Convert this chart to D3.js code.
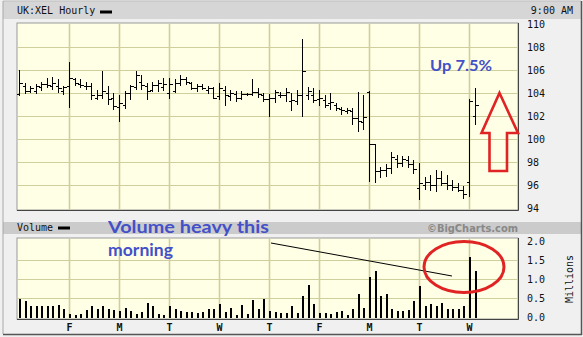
<!DOCTYPE html>
<html><head><meta charset="utf-8">
<script src="https://cdn.jsdelivr.net/npm/d3@7"></script>
<style>
html,body{margin:0;padding:0;background:#f0f0f0;}
svg{display:block;}
</style></head>
<body>
<svg id="c" width="583" height="337"></svg>
<script>
// ---- data ----
const dayLabels = ["F","M","T","W","T","F","M","T","W"];
const barsPerDay = 9;
const priceTicks = [94,96,98,100,102,104,106,108,110];
const volumeTicks = [0.0,0.5,1.0,1.5,2.0];
const openP = [
103.9,104.6,104.2,104.2,104.5,104.8,104.6,104.6,104.2,
104.6,105.2,104.8,104.6,104.6,103.6,103.8,104.0,103.6,
102.8,103.0,104.0,104.5,105.0,104.6,104.3,104.7,104.5,
104.0,104.2,104.9,105.2,104.9,104.4,104.6,104.3,104.4,
103.7,104.3,103.7,103.9,103.6,103.9,103.9,104.1,103.8,
103.5,103.6,103.8,103.8,103.3,103.3,103.8,103.8,103.8,
103.5,103.4,103.1,103.0,102.6,102.4,102.4,101.8,101.5,
104.1,99.6,97.2,97.3,97.5,98.3,97.9,98.2,97.8,
95.7,96.0,96.3,96.0,96.6,96.2,96.0,95.8,95.6,
96.3,102.0];
const highP = [
106.0,104.9,104.6,104.8,105.0,105.3,105.4,105.2,104.6,
106.7,105.3,105.2,105.0,104.9,104.3,105.9,104.6,104.0,
103.8,104.2,104.7,105.9,105.6,104.9,105.0,105.1,105.3,
105.3,105.2,105.6,105.4,105.0,104.8,104.8,104.6,104.5,
104.9,104.6,104.3,104.2,104.2,104.0,105.2,104.4,104.0,
103.9,104.3,104.1,104.4,104.0,104.3,108.7,104.5,104.4,
104.3,103.8,104.0,103.1,102.8,102.7,102.7,104.1,103.8,
104.2,99.6,97.6,97.8,98.9,98.6,98.5,98.5,98.2,
97.9,96.7,96.9,97.3,97.2,96.9,96.4,96.2,95.9,
103.5,104.4];
const lowP = [
103.7,103.9,104.0,103.9,104.2,104.4,104.3,104.0,103.8,
102.7,104.6,104.4,104.3,103.4,103.4,103.5,103.0,102.5,
101.5,102.6,103.4,104.3,104.3,103.4,104.1,104.1,104.2,
103.5,104.0,104.6,104.7,104.3,104.1,104.3,103.9,103.5,
103.4,102.9,103.3,103.2,103.4,103.7,103.7,103.6,103.2,
101.9,103.1,103.6,103.2,102.4,103.0,101.9,103.4,103.1,
102.9,102.7,102.5,102.4,102.1,102.2,101.2,100.6,100.8,
96.3,96.2,96.6,96.7,97.0,97.5,97.6,97.5,97.0,
94.7,95.6,95.5,95.4,95.9,95.6,95.5,95.4,94.8,
95.0,101.2];
const closeP = [
104.9,104.2,104.4,104.6,104.8,104.7,104.9,104.4,104.5,
105.3,104.9,104.7,104.6,103.8,103.8,104.2,103.5,102.9,
103.1,104.0,104.6,105.6,104.7,104.2,104.7,104.9,104.8,
104.8,104.9,105.2,105.0,104.4,104.6,104.4,104.4,103.6,
104.4,103.8,104.0,103.6,103.9,103.9,104.1,103.9,103.5,
103.6,104.1,103.8,104.1,103.4,103.8,105.9,104.2,103.4,
103.6,103.0,103.2,102.7,102.5,102.5,101.8,101.6,101.9,
99.6,97.2,97.3,97.5,98.4,97.9,98.3,97.8,97.4,
96.2,96.3,96.0,96.6,96.2,96.0,95.8,95.6,95.2,
103.3,103.0];
const volumeM = [
0.48,0.42,0.29,0.30,0.29,0.30,0.30,0.32,0.22,
0.08,0.06,0.08,0.18,0.30,0.22,0.29,0.22,0.18,
0.17,0.24,0.16,0.09,0.13,0.38,0.29,0.08,0.06,
0.29,0.22,0.15,0.13,0.13,0.11,0.13,0.22,0.22,
0.35,0.13,0.25,0.06,0.31,0.09,0.44,0.20,0.48,
0.16,0.13,0.11,0.11,0.29,0.11,0.54,0.83,0.35,
0.11,0.11,0.09,0.13,0.16,0.06,0.20,0.61,0.25,
1.04,1.20,0.55,0.60,0.20,0.15,0.15,0.19,0.43,
0.82,0.30,0.35,0.28,0.38,0.21,0.21,0.21,0.30,
1.58,1.20];

// ---- drawing ----
const svg = d3.select("#c");
const mono = "'DejaVu Sans Mono', monospace";
const plotL = 17, plotR = 518;
const pTop = 23, pBot = 210;
const vTop = 238, vBot = 319;

const x = d3.scaleLinear().domain([0, 90]).range([19, 519]);
const yP = d3.scaleLinear().domain([94, 110]).range([208, 24]);
const yV = d3.scaleLinear().domain([0, 2]).range([317, 241]);

// background & frame
svg.append("rect").attr("x",0).attr("y",0).attr("width",583).attr("height",337).attr("fill","#f0f0f0");
svg.append("rect").attr("x",3).attr("y",1).attr("width",578).attr("height",18).attr("fill","#d6d6d6");
svg.append("rect").attr("x",3).attr("y",222).attr("width",578).attr("height",12).attr("fill","#cbcbcb");
svg.append("line").attr("x1",3).attr("x2",3).attr("y1",1).attr("y2",334).attr("stroke","#a8a8a8");
svg.append("line").attr("x1",3).attr("x2",581).attr("y1",1).attr("y2",1).attr("stroke","#bdbdbd");
svg.append("line").attr("x1",581.5).attr("x2",581.5).attr("y1",1).attr("y2",335).attr("stroke","#555").attr("stroke-width",1.5);
svg.append("line").attr("x1",3).attr("x2",582).attr("y1",334.5).attr("y2",334.5).attr("stroke","#555").attr("stroke-width",1.5);

// title
svg.append("text").attr("x",17).attr("y",14).attr("font-family",mono).attr("font-size",10).attr("fill","#111").text("UK:XEL Hourly");
svg.append("rect").attr("x",100).attr("y",10.5).attr("width",12).attr("height",3).attr("fill","#000");
svg.append("text").attr("x",573).attr("y",14).attr("text-anchor","end").attr("font-family",mono).attr("font-size",10).attr("fill","#111").text("9:00 AM");

// volume band text
svg.append("text").attr("x",17).attr("y",231).attr("font-family",mono).attr("font-size",10).attr("fill","#111").text("Volume");
svg.append("rect").attr("x",58).attr("y",226.5).attr("width",12).attr("height",3).attr("fill","#000");
svg.append("text").attr("x",427).attr("y",232).attr("font-family","'DejaVu Sans', sans-serif").attr("font-weight","bold").attr("font-size",10.5)
  .attr("textLength",91).attr("lengthAdjust","spacingAndGlyphs").attr("fill","#888").text("\u00A9BigCharts.com");

function panel(top, bot) {
  svg.append("rect").attr("x",plotL).attr("y",top).attr("width",plotR-plotL).attr("height",bot-top)
    .attr("fill","#ffffe6").attr("stroke","#9a9a9a");
  svg.append("line").attr("x1",plotL).attr("x2",plotR+0.5).attr("y1",bot+0.5).attr("y2",bot+0.5).attr("stroke","#444");
  svg.append("line").attr("x1",plotR+0.5).attr("x2",plotR+0.5).attr("y1",top).attr("y2",bot+0.5).attr("stroke","#444");
}
panel(pTop, pBot);
panel(vTop, vBot);

const gridCol = "#cfcf9e";
const dayIdx = dayLabels.map((d,i)=>(i+1)*barsPerDay);
// price grid
svg.append("g").selectAll("line").data(priceTicks.filter(t=>t>94 && t<110)).join("line")
  .attr("x1",plotL+0.5).attr("x2",plotR).attr("y1",d=>Math.round(yP(d))+0.5).attr("y2",d=>Math.round(yP(d))+0.5)
  .attr("stroke",gridCol);
svg.append("g").selectAll("line").data(dayIdx).join("line")
  .attr("x1",d=>Math.round(x(d))+0.5).attr("x2",d=>Math.round(x(d))+0.5).attr("y1",pTop+0.5).attr("y2",pBot)
  .attr("stroke",gridCol).attr("stroke-width",1.6);
// volume grid
svg.append("g").selectAll("line").data(volumeTicks.filter(t=>t>0 && t<2)).join("line")
  .attr("x1",plotL+0.5).attr("x2",plotR).attr("y1",d=>Math.round(yV(d))+0.5).attr("y2",d=>Math.round(yV(d))+0.5)
  .attr("stroke",gridCol);
svg.append("g").selectAll("line").data(dayIdx).join("line")
  .attr("x1",d=>Math.round(x(d))+0.5).attr("x2",d=>Math.round(x(d))+0.5).attr("y1",vTop+0.5).attr("y2",vBot)
  .attr("stroke",gridCol).attr("stroke-width",1.6);

// price axis labels (right)
svg.append("g").selectAll("text").data(priceTicks).join("text")
  .attr("x",527).attr("y",d=>yP(d)+4).attr("font-family",mono).attr("font-size",10).attr("fill","#111")
  .text(d=>d);
svg.append("g").selectAll("text").data(volumeTicks).join("text")
  .attr("x",527).attr("y",d=>yV(d)+4).attr("font-family",mono).attr("font-size",10).attr("fill","#111")
  .text(d=>d.toFixed(1));
svg.append("text").attr("transform","translate(573,279) rotate(-90)").attr("text-anchor","middle")
  .attr("font-family",mono).attr("font-size",10).attr("fill","#111").text("Millions");

// x labels
svg.append("g").selectAll("text").data(dayLabels).join("text")
  .attr("x",(d,i)=>x(dayIdx[i])+0.5).attr("y",331).attr("text-anchor","middle")
  .attr("font-family",mono).attr("font-weight","bold").attr("font-size",10).attr("fill","#111")
  .text(d=>d);

// OHLC bars
const bars = openP.map((o,i)=>({i, o, h:highP[i], l:lowP[i], c:closeP[i], v:volumeM[i]}));
const gb = svg.append("g").attr("stroke","#000").attr("stroke-width",1).attr("shape-rendering","crispEdges");
bars.forEach(b=>{
  const cx = Math.round(x(b.i))+0.5;
  gb.append("line").attr("x1",cx).attr("x2",cx).attr("y1",yP(b.h)).attr("y2",yP(b.l));
  gb.append("line").attr("x1",cx-3).attr("x2",cx).attr("y1",Math.round(yP(b.o))+0.5).attr("y2",Math.round(yP(b.o))+0.5);
  gb.append("line").attr("x1",cx).attr("x2",cx+3).attr("y1",Math.round(yP(b.c))+0.5).attr("y2",Math.round(yP(b.c))+0.5);
});
// volume bars
svg.append("g").selectAll("rect").data(bars).join("rect")
  .attr("x",d=>Math.round(x(d.i))-0.5).attr("width",2)
  .attr("y",d=>yV(d.v)).attr("height",d=>yV(0)-yV(d.v)+1)
  .attr("fill","#000").attr("shape-rendering","crispEdges");

// annotations
const blue = "#4350c8";
const annFont = "Lato, 'Open Sans', sans-serif";
svg.append("text").attr("x",430).attr("y",71).attr("font-family",annFont).attr("font-weight","bold")
  .attr("font-size",16).attr("textLength",62).attr("lengthAdjust","spacingAndGlyphs").attr("fill",blue).text("Up 7.5%");
svg.append("text").attr("x",108).attr("y",233).attr("font-family",annFont).attr("font-weight","bold")
  .attr("font-size",17.5).attr("textLength",161).attr("lengthAdjust","spacingAndGlyphs").attr("fill",blue).text("Volume heavy this");
svg.append("text").attr("x",108).attr("y",256).attr("font-family",annFont).attr("font-weight","bold")
  .attr("font-size",17.5).attr("textLength",65).attr("lengthAdjust","spacingAndGlyphs").attr("fill",blue).text("morning");
// arrow
const arrowPts = [[499.5,93],[518,133],[507,133],[507,171],[489.5,171],[489.5,133],[481.5,133]];
svg.append("polygon").attr("points",arrowPts.map(p=>p.join(",")).join(" "))
  .attr("fill","none").attr("stroke","#e02424").attr("stroke-width",2.6).attr("stroke-linejoin","miter");
// trend line
svg.append("line").attr("x1",271).attr("y1",243).attr("x2",452).attr("y2",276).attr("stroke","#000").attr("stroke-width",1);
// ellipse
svg.append("ellipse").attr("cx",464).attr("cy",267).attr("rx",40).attr("ry",25.5)
  .attr("fill","none").attr("stroke","#e02424").attr("stroke-width",3);
</script>
</body></html>
